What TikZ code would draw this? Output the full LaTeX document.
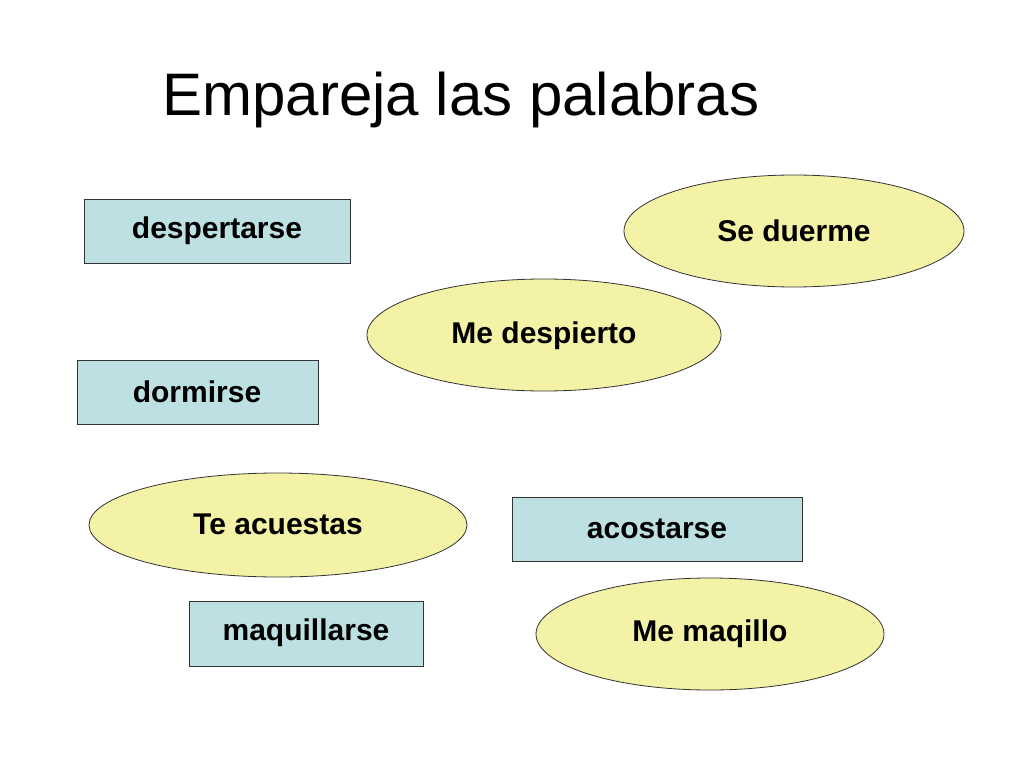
\documentclass[tikz,border=0pt]{standalone}
\usepackage{fontspec}
\setmainfont{Liberation Sans}
\usetikzlibrary{shapes.geometric}
\definecolor{boxc}{HTML}{BDE1E3}
\definecolor{ellc}{HTML}{F3F2A6}
\begin{document}
\begin{tikzpicture}[x=1pt,y=-1pt,
  wbox/.style={draw=black!80,fill=boxc,line width=0.8pt,font=\fontsize{30}{30}\selectfont\bfseries},
  well/.style={draw=black!80,fill=ellc,ellipse,line width=0.8pt,font=\fontsize{30}{30}\selectfont\bfseries}]
\useasboundingbox[fill=white] (0,0) rectangle (1024,768);
\node (title) at (461,100) {\fontsize{60}{60}\selectfont Empareja las palabras};
\draw[wbox] (84,199) rectangle (350,263); \node[font=\fontsize{30}{30}\selectfont\bfseries] (b1) at (217,231) {despertarse};
\draw[wbox] (77,360) rectangle (318,424); \node[font=\fontsize{30}{30}\selectfont\bfseries] (b2) at (197,392) {dormirse};
\draw[wbox] (512,497) rectangle (802,561); \node[font=\fontsize{30}{30}\selectfont\bfseries] (b3) at (657,529) {acostarse};
\draw[wbox] (189,601) rectangle (423,666); \node[font=\fontsize{30}{30}\selectfont\bfseries] (b4) at (306,633) {maquillarse};
\draw[well] (794,231) ellipse [x radius=170,y radius=56]; \node[font=\fontsize{30}{30}\selectfont\bfseries] (e1) at (794,231) {Se duerme};
\draw[well] (544,335) ellipse [x radius=177,y radius=56]; \node[font=\fontsize{30}{30}\selectfont\bfseries] (e2) at (544,336) {Me despierto};
\draw[well] (278,525) ellipse [x radius=189,y radius=52]; \node[font=\fontsize{30}{30}\selectfont\bfseries] (e3) at (278,524) {Te acuestas};
\draw[well] (710,634) ellipse [x radius=174,y radius=56]; \node[font=\fontsize{30}{30}\selectfont\bfseries] (e4) at (710,634) {Me maqillo};
\end{tikzpicture}
\end{document}
